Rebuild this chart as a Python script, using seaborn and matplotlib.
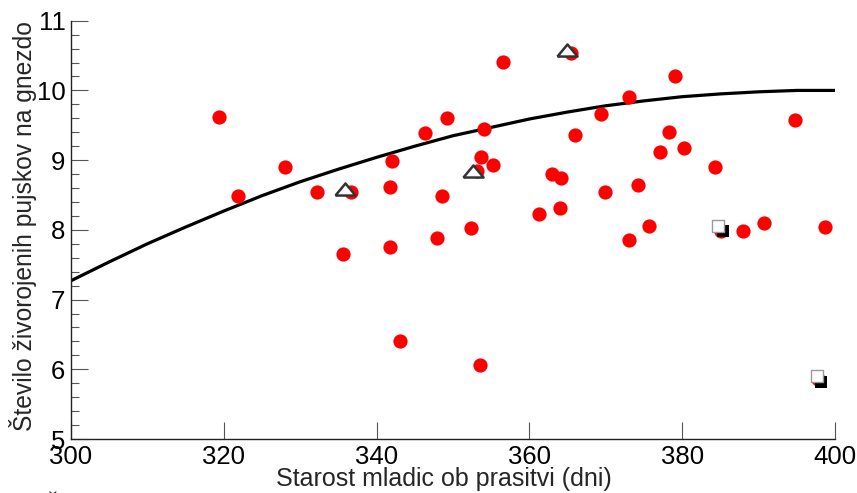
import numpy as np
import pandas as pd
import matplotlib
matplotlib.use("Agg")
import matplotlib.pyplot as plt
import matplotlib.path as mpath
from matplotlib.ticker import MultipleLocator
import seaborn as sns

# Red dots: age of gilt at farrowing (days) vs. live-born piglets per litter
age = [319.4, 321.9, 328.0, 332.2, 336.6, 342.0, 341.7, 335.6, 341.8, 346.4,
       356.6, 365.4, 349.2, 354.0, 366.0, 353.7, 355.2, 353.2, 362.9, 364.1,
       348.6, 364.0, 361.2, 352.3, 347.9, 379.0, 373.1, 369.4, 394.8, 378.3,
       380.3, 377.1, 384.3, 374.2, 369.9, 375.6, 373.1, 387.9, 390.7, 398.7,
       343.1, 353.5, 385.1, 397.8]
piglets = [9.62, 8.48, 8.90, 8.54, 8.55, 8.99, 8.62, 7.65, 7.76, 9.39,
           10.41, 10.54, 9.60, 9.45, 9.36, 9.05, 8.93, 8.84, 8.80, 8.74,
           8.48, 8.31, 8.23, 8.03, 7.89, 10.20, 9.91, 9.66, 9.57, 9.41,
           9.18, 9.11, 8.90, 8.65, 8.55, 8.06, 7.86, 7.98, 8.10, 8.04,
           6.41, 6.06, 7.99, 5.86]

# fitted curve
curve_x = [300, 305, 310, 315, 320, 325, 330, 335, 340, 345, 350,
           355, 360, 365, 370, 375, 380, 385, 390, 395, 400]
curve_y = [7.27, 7.54, 7.80, 8.04, 8.27, 8.49, 8.69, 8.87, 9.04, 9.20, 9.35,
           9.47, 9.59, 9.69, 9.78, 9.85, 9.91, 9.95, 9.98, 10.00, 10.00]

# open triangles
tri_x = [335.9, 352.6, 364.9]
tri_y = [8.59, 8.85, 10.58]

# squares (white on top, black shadow)
sq_x = [384.75, 397.7]
sq_y = [8.05, 5.90]
shadow_x = [385.3, 398.2]
shadow_y = [7.98, 5.82]

sns.set_theme(style="ticks")
plt.rcParams['font.family'] = ['Liberation Sans', 'DejaVu Sans']

fig = plt.figure(figsize=(8.57, 4.93), dpi=100)
ax = fig.add_axes([0.0828, 0.1095, 0.8915, 0.8485])

sns.lineplot(x=curve_x, y=curve_y, color='black', linewidth=2.3, ax=ax, zorder=2)
sns.scatterplot(x=age, y=piglets, color='#ff0000', s=105, linewidth=0, ax=ax, zorder=3)

tri = mpath.Path([(-1, -0.6), (1, -0.6), (0, 0.6), (-1, -0.6)])
sns.scatterplot(x=tri_x, y=tri_y, marker=tri, s=210, facecolor='white',
                edgecolor='#333333', linewidth=1.8, ax=ax, zorder=4)

sns.scatterplot(x=shadow_x, y=shadow_y, marker='s', s=80, color='black',
                linewidth=0, ax=ax, zorder=4)
sns.scatterplot(x=sq_x, y=sq_y, marker='s', s=70, facecolor='white',
                edgecolor='#9a9a9a', linewidth=1.0, ax=ax, zorder=5)

ax.set_xlim(300, 400)
ax.set_ylim(5, 11)
ax.set_xticks(np.arange(300, 401, 20))
ax.set_yticks(np.arange(5, 12, 1))
ax.yaxis.set_minor_locator(MultipleLocator(0.2))
sns.despine(ax=ax)
for s in ['left', 'bottom']:
    ax.spines[s].set_color('#222222')
    ax.spines[s].set_linewidth(1.0)

ax.tick_params(axis='both', which='major', direction='in', length=12, width=0.8,
               color='#555555', labelsize=18.5, labelcolor='black')
ax.tick_params(axis='y', which='minor', direction='in', length=6, width=0.8, color='#555555')
ax.tick_params(axis='x', pad=4)
ax.tick_params(axis='y', pad=4)

ax.set_xlabel('Starost mladic ob prasitvi (dni)', fontsize=18)
ax.set_ylabel('Število živorojenih pujskov na gnezdo', fontsize=17.7)
ax.xaxis.set_label_coords(0.488, -0.068)
ax.yaxis.set_label_coords(-0.044, 0.508)

# stray caron at the bottom-left edge of the original
fig.text(0.062, -0.032, 'ˇ', fontsize=17, ha='center', va='baseline')

fig.savefig('out.png', dpi=100)
